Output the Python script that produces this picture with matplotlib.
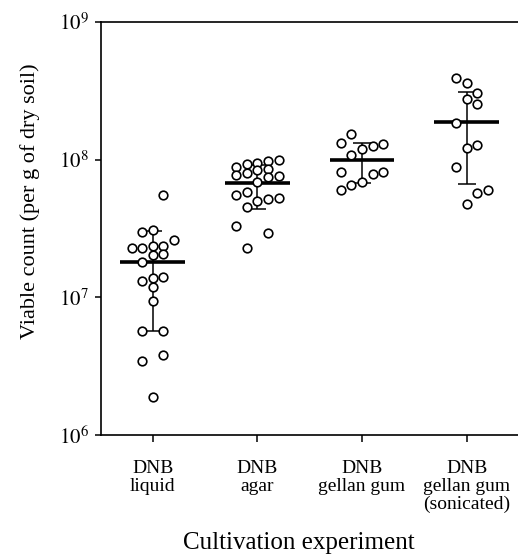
import matplotlib
matplotlib.use("Agg")
import matplotlib.pyplot as plt
import numpy as np

plt.rcParams["font.family"] = ["Liberation Serif", "DejaVu Serif"]
plt.rcParams["mathtext.fontset"] = "stix"

categories = ["DNB\nliquid", "DNB\nagar", "DNB\ngellan gum", "DNB\ngellan gum\n(sonicated)"]

# viable counts, with the column slot each circle sits in
liquid = [5.5e7, 2.97e7, 3.1e7, 2.6e7, 2.3e7, 2.3e7, 2.37e7, 2.37e7, 2.03e7, 2.07e7,
          1.8e7, 1.32e7, 1.39e7, 1.41e7, 1.18e7, 9.4e6, 5.7e6, 5.7e6, 3.8e6, 3.45e6, 1.9e6]
liquid_slot = [1, -1, 0, 2, -2, -1, 0, 1, 0, 1, -1, -1, 0, 1, 0, 0, -1, 1, 1, -1, 0]

agar = [8.9e7, 9.3e7, 9.4e7, 9.8e7, 1.0e8, 7.8e7, 8.0e7, 8.4e7, 8.5e7, 7.45e7, 7.6e7,
        6.9e7, 5.5e7, 5.8e7, 5.0e7, 5.2e7, 5.3e7, 4.5e7, 3.3e7, 2.95e7, 2.3e7]
agar_slot = [-2, -1, 0, 1, 2, -2, -1, 0, 1, 1, 2, 0, -2, -1, 0, 1, 2, -1, -2, 1, -1]

gellan = [1.53e8, 1.33e8, 1.2e8, 1.26e8, 1.29e8, 1.08e8, 8.2e7, 7.9e7, 8.2e7, 6.9e7, 6.55e7, 6.0e7]
gellan_slot = [-1, -2, 0, 1, 2, -1, -2, 1, 2, 0, -1, -2]

sonicated = [3.9e8, 3.59e8, 3.03e8, 2.75e8, 2.54e8, 1.84e8, 1.28e8, 1.21e8, 8.8e7, 6.0e7, 5.76e7, 4.77e7]
sonicated_slot = [-1, 0, 1, 0, 1, -1, 1, 0, -1, 2, 1, 0]

means = [1.8e7, 6.8e7, 1.0e8, 1.88e8]
sds = [1.23e7, 2.4e7, 3.2e7, 1.21e8]

groups = [(liquid, liquid_slot), (agar, agar_slot), (gellan, gellan_slot), (sonicated, sonicated_slot)]

fig = plt.figure(figsize=(5.18, 5.57), dpi=100)
ax = fig.add_axes([101 / 518, 1 - 435 / 557, 1 - 101 / 518, (435 - 22) / 557])

slot_step = 0.101
for i, (values, slots) in enumerate(groups):
    xs = i + slot_step * np.array(slots)
    ax.errorbar(i, means[i], yerr=sds[i], fmt="none", ecolor="black", elinewidth=1.1,
                capsize=6.5, capthick=1.1, zorder=1)
    ax.plot([i - 0.31, i + 0.31], [means[i], means[i]], color="black", lw=2.6,
            solid_capstyle="butt", zorder=2)
    ax.plot(xs, values, "o", ms=6.2, mfc="white", mec="black", mew=1.2, zorder=3)

ax.set_yscale("log")
ax.set_ylim(1e6, 1e9)
ax.set_xlim(-0.494, 3.49)
ax.yaxis.set_minor_locator(matplotlib.ticker.NullLocator())
ax.set_yticks([1e6, 1e7, 1e8, 1e9])
ax.set_yticklabels([r"$10^{6}$", r"$10^{7}$", r"$10^{8}$", r"$10^{9}$"])
ax.set_xticks(range(len(categories)))
ax.set_xticklabels(categories, linespacing=1.08)

ax.spines["right"].set_visible(False)
for s in ["left", "top", "bottom"]:
    ax.spines[s].set_linewidth(1.2)
ax.tick_params(axis="x", direction="out", length=5, width=1.1, labelsize=14, pad=13)
ax.tick_params(axis="y", direction="out", length=4.5, width=1.1, labelsize=15, pad=4)

ax.set_ylabel("Viable count (per g of dry soil)", fontsize=16)
ax.yaxis.set_label_coords(-0.146, 0.567)
ax.set_xlabel("Cultivation experiment", fontsize=18)
ax.xaxis.set_label_coords(0.474, -0.235)

fig.savefig("out.png", dpi=100)
